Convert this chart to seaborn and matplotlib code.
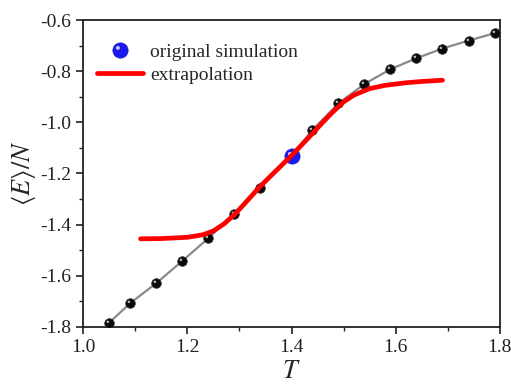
import numpy as np
import pandas as pd
import matplotlib
matplotlib.use("Agg")
import matplotlib.pyplot as plt
from matplotlib.lines import Line2D
from matplotlib.path import Path
import seaborn as sns

# data
T_sim = [1.05, 1.09, 1.14, 1.19, 1.24, 1.29, 1.34, 1.40, 1.44, 1.49, 1.54, 1.59, 1.64, 1.69, 1.74, 1.79]
E_sim = [-1.784, -1.708, -1.630, -1.543, -1.454, -1.359, -1.256, -1.131, -1.030, -0.926, -0.850, -0.792, -0.749, -0.711, -0.680, -0.651]
T_orig = [1.40]
E_orig = [-1.131]
T_ext = [1.11, 1.15, 1.20, 1.23, 1.25, 1.27, 1.29, 1.31, 1.34, 1.37, 1.40, 1.43, 1.46, 1.48, 1.50, 1.52, 1.55, 1.58, 1.62, 1.65, 1.69]
E_ext = [-1.456, -1.455, -1.450, -1.440, -1.425, -1.398, -1.362, -1.318, -1.250, -1.190, -1.130, -1.066, -1.000, -0.958, -0.920, -0.893, -0.868, -0.855, -0.845, -0.840, -0.835]

sns.set_theme(style="ticks")
plt.rcParams['font.family'] = ['Liberation Serif', 'DejaVu Serif']
plt.rcParams['mathtext.fontset'] = 'stix'

# highlight marker: small circle offset toward upper-left, with a stray MOVETO to fix normalization
circ = Path.circle(center=(-0.17, 0.17), radius=0.13)
hl_verts = np.vstack([[[0.5, 0.5]], circ.vertices])
hl_codes = np.concatenate([[Path.MOVETO], circ.codes])
HL = Path(hl_verts, hl_codes)

fig = plt.figure(figsize=(5.11, 3.88), dpi=100)
ax = fig.add_axes([0.163, 0.158, 0.815, 0.79])

df_sim = pd.DataFrame({"T": T_sim, "E": E_sim})
df_ext = pd.DataFrame({"T": T_ext, "E": E_ext})
df_orig = pd.DataFrame({"T": T_orig, "E": E_orig})

sns.lineplot(data=df_sim, x="T", y="E", ax=ax, color="#8a8a8a", lw=1.6, zorder=2, sort=False)
sns.scatterplot(data=df_sim, x="T", y="E", ax=ax, color="#0a0a0a", s=48, edgecolor="#333333", linewidth=0.5, zorder=3)
sns.scatterplot(data=df_sim, x="T", y="E", ax=ax, color="#bbbbbb", s=48, linewidth=0, zorder=4, marker=HL)
sns.lineplot(data=df_ext, x="T", y="E", ax=ax, color="#ff0000", lw=3.4, zorder=5, sort=False)
sns.scatterplot(data=df_orig, x="T", y="E", ax=ax, color="#1a1aee", s=120, edgecolor="#1a1acc", linewidth=0.5, zorder=4)
sns.scatterplot(data=df_orig, x="T", y="E", ax=ax, color="#c8c8ff", s=120, linewidth=0, zorder=4.5, marker=HL)

ax.set_xlim(1.0, 1.8)
ax.set_ylim(-1.8, -0.6)
ax.set_xticks([1.0, 1.2, 1.4, 1.6, 1.8])
ax.set_yticks([-1.8, -1.6, -1.4, -1.2, -1.0, -0.8, -0.6])
ax.set_xticks(np.arange(1.1, 1.8, 0.2), minor=True)
ax.set_yticks(np.arange(-1.7, -0.6, 0.2), minor=True)
ax.set_xticklabels(["1.0", "1.2", "1.4", "1.6", "1.8"])
ax.set_yticklabels(["-1.8", "-1.6", "-1.4", "-1.2", "-1.0", "-0.8", "-0.6"])
ax.tick_params(axis='both', which='major', direction='out', length=5, width=1.2, labelsize=14, colors='#222222')
ax.tick_params(axis='both', which='minor', direction='out', length=3, width=1.0, colors='#222222')
for sp in ax.spines.values():
    sp.set_visible(True)
    sp.set_linewidth(1.3)
    sp.set_color('#222222')

ax.set_xlabel(r"$T$", fontsize=19, labelpad=4)
ax.set_ylabel(r"$\langle E\rangle/N$", fontsize=19, labelpad=2)

handles = [
    (Line2D([], [], marker='o', linestyle='none', markersize=11, markerfacecolor="#1a1aee", markeredgecolor="#1a1acc", markeredgewidth=0.5),
     Line2D([], [], marker=HL, linestyle='none', markersize=11, markerfacecolor="#c8c8ff", markeredgewidth=0)),
    Line2D([], [], color="#ff0000", lw=3.4),
]
ax.legend(handles, ["original simulation", "extrapolation"], loc='upper left', frameon=False,
          fontsize=14, bbox_to_anchor=(0.0, 0.97), handlelength=2.35, handletextpad=0.4, labelspacing=0.3, borderaxespad=0.3)

fig.savefig("out.png", dpi=100)
